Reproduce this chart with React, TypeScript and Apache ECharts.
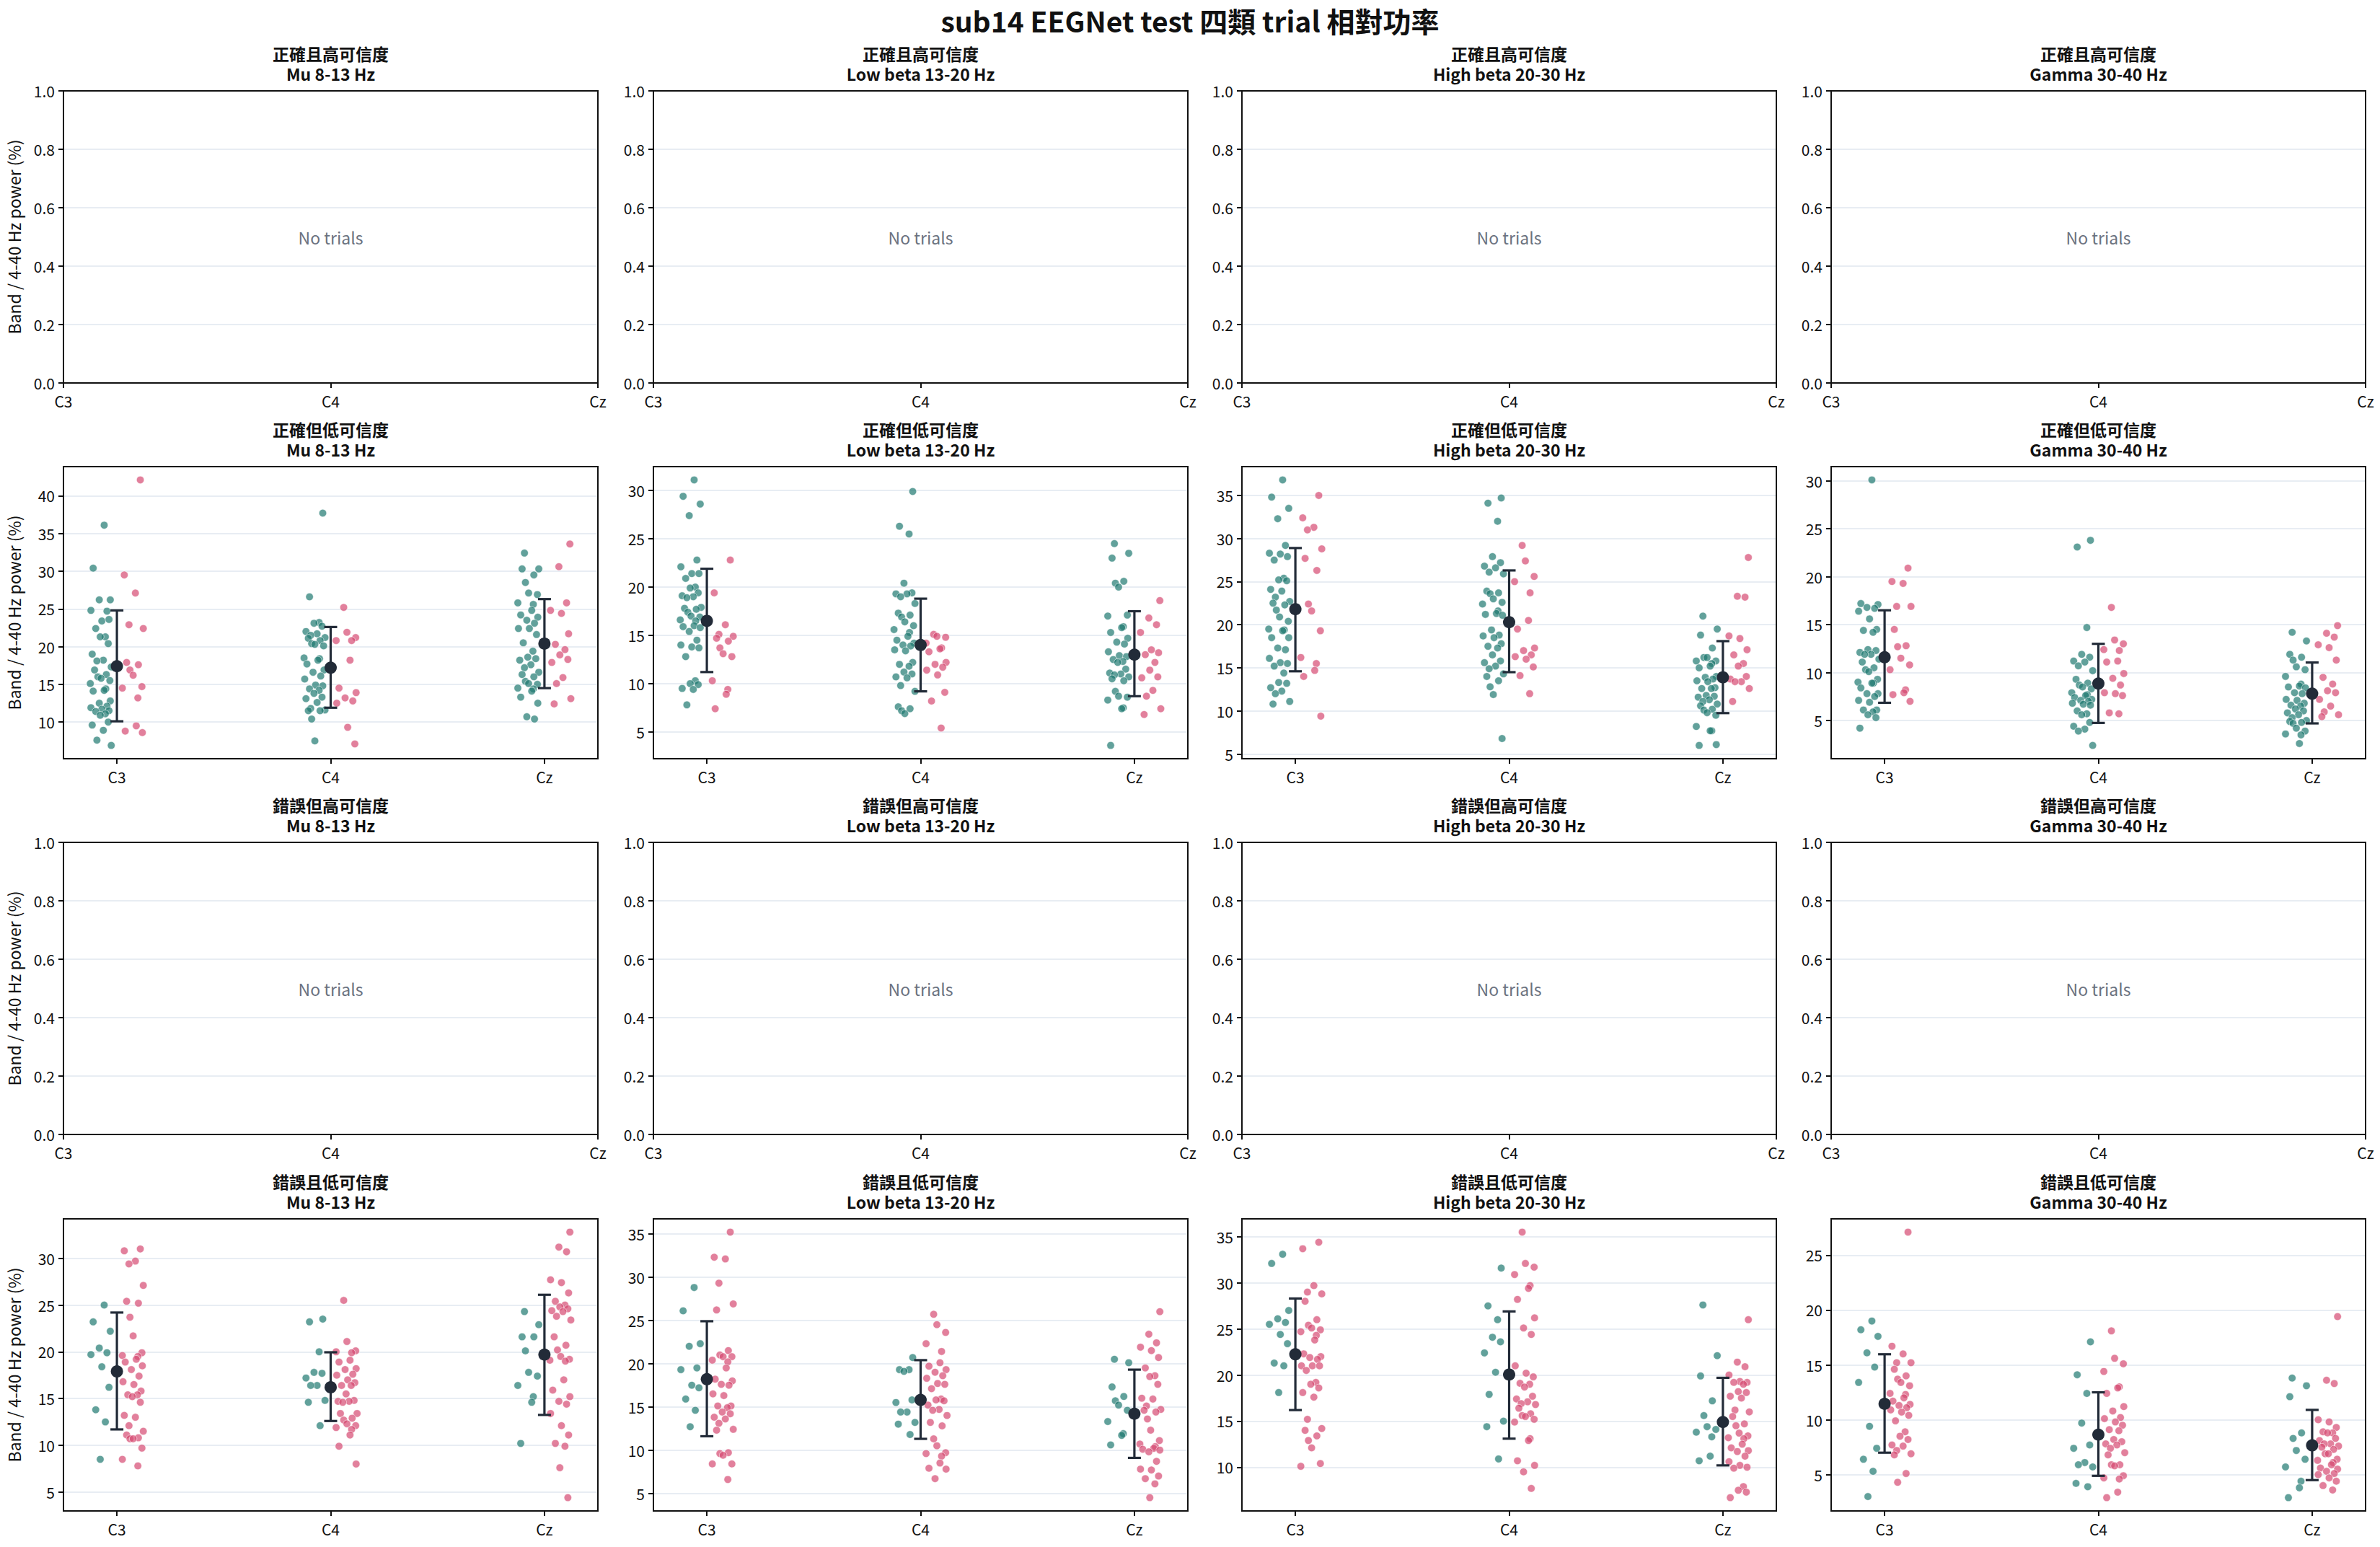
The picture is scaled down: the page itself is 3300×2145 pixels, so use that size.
import React, { useEffect, useRef } from "react";
import * as echarts from "echarts";

// ---------------- text ----------------
const MAIN_TITLE = "sub14 EEGNet test 四類 trial 相對功率";
const ROW_LABELS = ["正確且高可信度", "正確但低可信度", "錯誤但高可信度", "錯誤且低可信度"];
const BANDS = ["Mu 8-13 Hz", "Low beta 13-20 Hz", "High beta 20-30 Hz", "Gamma 30-40 Hz"];
const CHANNELS = ["C3", "C4", "Cz"];
const Y_LABEL = "Band / 4-40 Hz power (%)";
const EMPTY_TEXT = "No trials";

// ---------------- data: 正確但低可信度 (row 2) ----------------
// each array: [C3 values, C4 values, Cz values]
const CL_MU_TEAL = [
  [36.1, 30.4, 26.2, 26.2, 24.7, 24.8, 23.4, 23.6, 22.4, 21.3, 21.3, 20.4, 19.0, 18.2, 18.1, 17.3, 16.9, 16.3, 16.0, 15.8, 15.5, 15.1, 14.4, 14.2, 14.1, 12.8, 12.5, 12.1, 11.9, 11.7, 11.5, 11.4, 11.1, 10.9, 10.0, 9.6, 8.9, 7.6, 6.9],
  [37.7, 26.6, 23.2, 23.1, 22.7, 22.0, 21.7, 21.5, 21.2, 21.1, 20.8, 20.4, 20.3, 20.1, 18.5, 18.4, 18.2, 17.7, 16.9, 16.6, 16.1, 15.7, 14.9, 14.8, 14.4, 14.2, 13.8, 13.3, 13.1, 12.6, 11.8, 11.6, 11.5, 11.5, 10.4, 7.5],
  [32.4, 30.3, 30.3, 29.5, 28.5, 27.1, 26.9, 25.8, 25.6, 24.8, 24.2, 23.9, 23.5, 23.1, 22.4, 22.4, 21.6, 20.5, 19.4, 18.6, 18.4, 18.2, 17.6, 17.2, 16.6, 16.3, 16.0, 15.4, 15.1, 15.0, 14.5, 14.4, 14.1, 13.3, 12.5, 10.7, 10.4],
];
const CL_MU_PINK = [
  [42.1, 29.5, 27.1, 22.9, 22.4, 17.9, 17.6, 16.9, 16.2, 14.7, 14.5, 13.2, 9.5, 8.8, 8.6],
  [25.2, 21.9, 21.2, 20.8, 20.8, 18.2, 14.5, 13.9, 13.2, 12.8, 12.5, 9.3, 7.1],
  [33.6, 30.6, 25.8, 24.8, 24.4, 21.7, 20.3, 19.6, 18.9, 18.3, 17.9, 15.9, 15.1, 13.1, 12.4],
];
const CL_MU_MEAN = [17.4, 17.2, 20.4];
const CL_MU_ERR = [[10.1, 24.8], [11.9, 22.6], [14.5, 26.3]];

const CL_LB_TEAL = [
  [31.1, 29.4, 28.6, 27.4, 22.8, 22.1, 21.4, 21.4, 20.9, 20.0, 19.9, 19.4, 19.1, 19.0, 18.9, 17.9, 17.8, 17.7, 17.4, 17.0, 16.9, 16.6, 16.5, 16.0, 15.9, 15.8, 15.4, 14.5, 14.0, 13.8, 13.7, 12.8, 10.3, 10.0, 9.9, 9.5, 9.4, 7.8],
  [29.9, 26.3, 25.5, 20.4, 19.4, 19.3, 19.3, 19.0, 18.3, 17.3, 17.1, 16.9, 16.4, 16.0, 15.6, 15.3, 14.9, 14.5, 14.2, 14.0, 13.9, 13.5, 13.4, 12.2, 12.0, 11.8, 11.2, 11.0, 10.7, 10.6, 9.8, 9.2, 7.6, 7.4, 7.2, 6.9],
  [24.5, 23.5, 23.0, 20.6, 20.4, 20.0, 17.1, 17.0, 15.9, 15.8, 15.3, 14.7, 14.3, 14.1, 13.3, 12.9, 12.8, 12.5, 12.3, 12.2, 11.5, 11.1, 11.0, 10.9, 10.7, 10.5, 10.3, 9.2, 8.7, 8.6, 8.3, 7.5, 7.4, 3.6],
];
const CL_LB_PINK = [
  [22.8, 19.4, 16.1, 15.1, 14.9, 14.7, 14.4, 13.7, 13.1, 12.8, 10.3, 9.4, 8.9, 7.4],
  [15.1, 14.9, 14.8, 14.2, 13.7, 13.6, 13.3, 12.2, 12.0, 11.7, 11.4, 10.9, 9.1, 8.2, 5.4],
  [18.6, 16.8, 16.1, 15.3, 13.5, 13.2, 13.0, 12.2, 11.4, 10.7, 10.6, 9.3, 8.7, 7.4, 6.8],
];
const CL_LB_MEAN = [16.5, 14.0, 13.0];
const CL_LB_ERR = [[11.2, 21.9], [9.2, 18.8], [8.7, 17.5]];

const CL_HB_TEAL = [
  [36.8, 34.8, 33.5, 32.3, 29.2, 28.3, 28.2, 27.9, 27.5, 25.4, 25.2, 25.1, 24.1, 23.9, 23.2, 22.7, 22.5, 22.3, 21.7, 20.9, 20.4, 19.5, 19.4, 19.3, 18.5, 18.5, 17.3, 17.1, 16.1, 15.6, 15.5, 15.2, 14.4, 13.3, 13.2, 12.7, 12.3, 12.0, 11.1, 10.8],
  [34.7, 34.1, 32.0, 27.9, 27.2, 26.8, 26.6, 26.1, 25.9, 23.9, 23.7, 23.6, 23.0, 22.6, 22.4, 21.6, 21.3, 21.2, 21.1, 19.4, 18.8, 18.7, 18.5, 17.8, 17.5, 17.3, 16.5, 15.8, 15.6, 15.2, 14.9, 14.3, 14.0, 13.5, 12.8, 11.9, 6.8],
  [21.0, 19.5, 18.8, 17.3, 16.2, 16.2, 15.8, 15.8, 15.5, 15.2, 15.0, 14.0, 13.9, 13.7, 13.5, 13.4, 12.7, 12.6, 12.6, 11.8, 11.7, 11.6, 11.3, 11.1, 10.8, 10.6, 10.2, 10.1, 9.8, 9.5, 8.2, 7.7, 7.7, 6.0, 6.1],
];
const CL_HB_PINK = [
  [35.0, 32.4, 31.3, 31.0, 28.8, 27.7, 26.3, 22.4, 21.6, 19.3, 16.2, 15.5, 14.7, 14.0, 9.4],
  [29.2, 27.4, 25.6, 25.0, 23.7, 20.5, 19.5, 17.3, 17.0, 16.5, 16.3, 16.0, 15.1, 14.1, 12.0],
  [27.8, 23.3, 23.2, 18.7, 18.4, 17.1, 16.5, 15.5, 15.2, 14.0, 13.7, 13.4, 13.4, 12.6, 11.1],
];
const CL_HB_MEAN = [21.8, 20.3, 13.9];
const CL_HB_ERR = [[14.6, 28.9], [14.5, 26.3], [9.75, 18.1]];

const CL_GA_TEAL = [
  [30.1, 17.2, 17.1, 16.8, 16.7, 16.4, 15.6, 14.5, 14.4, 14.2, 12.4, 12.3, 12.1, 11.9, 11.9, 11.4, 11.1, 10.5, 10.3, 10.1, 9.3, 9.0, 8.9, 8.9, 8.4, 7.8, 7.8, 7.5, 7.1, 6.9, 6.1, 6.1, 5.9, 5.6, 5.3, 4.2],
  [23.8, 23.1, 14.7, 11.9, 11.6, 11.2, 11.1, 10.7, 10.2, 9.3, 8.9, 8.7, 8.5, 8.3, 7.9, 7.7, 7.6, 7.4, 7.2, 7.1, 7.0, 6.8, 6.7, 6.6, 6.0, 5.7, 5.6, 4.8, 4.4, 4.1, 3.9, 2.4],
  [14.2, 13.3, 11.9, 11.6, 11.3, 10.6, 10.3, 9.6, 8.8, 8.6, 8.5, 8.4, 7.9, 7.8, 7.2, 7.1, 6.8, 6.6, 6.5, 6.2, 6.0, 5.8, 5.6, 5.3, 5.0, 4.9, 4.8, 4.7, 4.2, 3.9, 3.6, 3.5, 2.6],
];
const CL_GA_PINK = [
  [20.9, 19.5, 19.3, 16.9, 16.9, 14.5, 12.8, 12.7, 11.5, 10.8, 10.3, 8.2, 7.9, 7.7, 7.0],
  [16.8, 13.4, 13.0, 12.4, 12.3, 11.2, 11.1, 9.9, 9.4, 8.7, 7.9, 7.8, 7.6, 5.8, 5.7],
  [14.9, 14.1, 13.7, 12.9, 12.6, 11.3, 9.5, 8.8, 8.1, 7.9, 7.2, 6.5, 5.9, 5.6, 5.4],
];
const CL_GA_MEAN = [11.6, 8.85, 7.8];
const CL_GA_ERR = [[6.85, 16.5], [4.75, 13.0], [4.7, 11.05]];

// ---------------- data: 錯誤且低可信度 (row 4) ----------------
const WL_MU_TEAL = [
  [25.0, 23.2, 22.2, 20.4, 19.9, 19.7, 18.4, 16.2, 13.8, 12.5, 8.5],
  [23.5, 23.2, 20.0, 17.8, 17.7, 17.2, 16.4, 16.4, 14.8, 14.6, 12.1],
  [24.3, 22.9, 21.6, 21.6, 20.1, 17.8, 17.4, 16.4, 15.2, 14.6, 10.2],
];
const WL_MU_PINK = [
  [31.0, 30.8, 29.7, 29.4, 27.1, 25.4, 25.2, 23.7, 21.7, 19.9, 19.6, 19.5, 19.2, 18.9, 18.5, 18.1, 17.4, 16.8, 16.5, 15.8, 15.4, 15.4, 15.2, 14.6, 13.2, 13.0, 12.1, 11.5, 11.1, 10.8, 10.7, 10.7, 9.7, 8.5, 7.8],
  [25.5, 21.1, 20.1, 20.0, 19.9, 19.1, 18.9, 18.2, 18.1, 17.6, 17.5, 17.0, 16.7, 16.4, 16.4, 15.5, 14.8, 14.7, 14.7, 14.6, 13.4, 13.4, 12.9, 12.7, 12.3, 12.1, 11.9, 11.7, 11.1, 9.9, 8.0],
  [32.8, 31.2, 30.7, 27.7, 27.4, 26.3, 25.4, 25.0, 24.8, 24.6, 24.4, 24.3, 23.8, 23.4, 21.6, 20.7, 20.2, 19.5, 19.2, 19.1, 19.0, 17.0, 15.9, 15.2, 14.7, 14.4, 13.4, 12.1, 11.1, 10.2, 9.9, 7.6, 4.4],
];
const WL_MU_MEAN = [17.9, 16.2, 19.7];
const WL_MU_ERR = [[11.7, 24.2], [12.6, 19.95], [13.25, 26.1]];

const WL_LB_TEAL = [
  [28.8, 26.1, 22.3, 22.0, 19.5, 19.3, 17.5, 17.2, 15.9, 14.6, 12.7],
  [20.7, 19.3, 19.3, 19.1, 15.8, 15.5, 14.4, 14.4, 13.2, 13.0, 11.8],
  [20.5, 20.1, 17.3, 16.2, 15.7, 15.2, 14.6, 13.3, 11.9, 11.7, 10.6],
];
const WL_LB_PINK = [
  [35.2, 32.3, 32.1, 29.3, 26.9, 26.2, 21.5, 21.0, 20.8, 20.8, 20.4, 20.2, 19.5, 18.2, 18.0, 17.6, 17.5, 16.5, 16.3, 15.1, 15.1, 14.9, 14.4, 14.2, 13.8, 13.6, 13.1, 12.4, 12.3, 9.7, 9.6, 9.4, 8.4, 8.4, 6.6],
  [25.7, 24.5, 23.6, 22.3, 21.4, 20.1, 19.7, 19.3, 19.0, 18.6, 18.3, 17.7, 17.6, 17.1, 15.9, 15.8, 15.7, 15.2, 14.7, 14.6, 14.0, 13.2, 12.8, 11.3, 10.5, 9.7, 9.6, 9.3, 8.5, 7.9, 7.8, 6.7],
  [26.0, 23.4, 22.4, 21.9, 21.5, 20.7, 19.5, 18.6, 18.5, 17.6, 16.0, 15.9, 15.1, 14.7, 14.6, 14.4, 13.6, 12.3, 11.1, 10.7, 10.4, 10.2, 10.1, 10.0, 9.8, 8.7, 7.8, 7.7, 7.0, 6.7, 6.1, 4.5],
];
const WL_LB_MEAN = [18.2, 15.8, 14.2];
const WL_LB_ERR = [[11.6, 24.9], [11.3, 20.4], [9.1, 19.3]];

const WL_HB_TEAL = [
  [33.1, 32.1, 27.0, 26.1, 25.7, 25.5, 24.4, 23.4, 21.3, 21.0, 18.1],
  [31.6, 27.5, 26.0, 24.1, 23.6, 22.4, 20.3, 17.9, 15.0, 14.4, 10.9],
  [27.6, 22.1, 19.9, 17.2, 15.6, 14.4, 14.1, 13.8, 13.3, 11.2, 10.7],
];
const WL_HB_PINK = [
  [34.4, 33.7, 29.7, 29.0, 28.8, 28.0, 26.0, 25.4, 25.1, 24.9, 24.7, 24.3, 23.8, 22.3, 22.0, 21.9, 21.7, 21.0, 21.0, 21.0, 20.5, 19.2, 19.0, 18.6, 18.1, 17.6, 15.2, 14.2, 14.0, 13.4, 12.9, 12.1, 10.4, 10.1],
  [35.5, 32.1, 31.7, 30.9, 29.7, 29.4, 28.2, 26.2, 25.1, 24.4, 21.0, 20.2, 19.8, 19.1, 19.0, 18.7, 17.7, 17.4, 17.1, 16.9, 16.8, 16.4, 15.8, 15.6, 15.5, 15.2, 14.9, 13.1, 12.9, 10.7, 10.2, 9.5, 7.7],
  [26.0, 21.4, 20.9, 20.0, 19.3, 19.2, 19.2, 19.0, 18.2, 18.1, 17.7, 17.5, 16.2, 16.0, 15.5, 14.7, 14.5, 13.7, 13.4, 13.2, 13.1, 12.5, 12.1, 11.8, 11.7, 11.2, 10.6, 10.2, 10.0, 9.9, 7.9, 7.5, 7.3, 6.7],
];
const WL_HB_MEAN = [22.25, 20.05, 14.9];
const WL_HB_ERR = [[16.2, 28.3], [13.1, 26.9], [10.2, 19.7]];

const WL_GA_TEAL = [
  [19.0, 18.2, 17.6, 16.1, 14.8, 13.4, 9.4, 7.4, 6.4, 5.3, 3.0],
  [17.1, 14.1, 12.4, 9.7, 7.7, 7.4, 6.1, 5.9, 5.7, 4.2, 3.9],
  [13.8, 13.1, 12.1, 8.8, 8.3, 7.2, 6.4, 5.7, 4.4, 3.8, 2.9],
];
const WL_GA_PINK = [
  [27.1, 16.7, 16.0, 15.2, 15.2, 14.6, 14.0, 13.7, 13.4, 13.1, 12.4, 12.3, 12.0, 11.7, 11.4, 11.3, 11.1, 10.9, 10.7, 10.4, 9.9, 8.9, 8.5, 8.2, 7.7, 7.6, 7.2, 6.9, 6.8, 5.1, 4.3],
  [18.1, 15.6, 15.1, 14.4, 13.0, 12.9, 12.4, 11.2, 10.8, 10.2, 10.1, 9.8, 9.5, 9.1, 9.0, 8.2, 8.0, 7.8, 7.7, 7.4, 7.0, 6.8, 5.9, 5.9, 5.8, 4.9, 4.7, 4.6, 3.4, 2.9],
  [19.4, 13.6, 13.3, 10.0, 9.8, 9.3, 8.9, 8.8, 8.8, 8.3, 8.1, 7.8, 7.8, 7.6, 7.5, 7.3, 6.9, 6.9, 6.4, 6.3, 6.1, 5.9, 5.6, 5.5, 5.3, 5.1, 5.0, 4.7, 4.4, 4.0, 3.6],
];
const WL_GA_MEAN = [11.45, 8.64, 7.67];
const WL_GA_ERR = [[7.0, 15.97], [4.89, 12.5], [4.5, 10.9]];

// horizontal jitter pattern (fraction of half-width), cycled
const JITTER = [0.31, -0.72, 0.88, -0.15, 0.57, -0.93, 0.09, 0.76, -0.48, 0.42, -0.06, 0.69, -0.81, 0.23, -0.37, 0.97, -0.59, 0.51, -0.28, 0.02, 0.84, -0.99, 0.46];

// ---------------- style / layout ----------------
const FONT = '"Noto Sans CJK TC", "Noto Sans CJK SC", "Noto Sans", sans-serif';
const TEAL = "#1f7970";
const PINK = "#d54a72";
const DARK = "#222b38";
const GRID_LINE = "#e1e7ef";
const AXIS_COLOR = "#111111";
const GRID_LEFT = [88, 906, 1722, 2539];
const GRID_TOP = [126, 647, 1168, 1690];
const GRID_W = 741;
const GRID_H = 405;

type Panel = { teal: number[][]; pink: number[][]; mean: number[]; err: number[][] };
const ROW_DATA: (Panel[] | null)[] = [
  null,
  [
    { teal: CL_MU_TEAL, pink: CL_MU_PINK, mean: CL_MU_MEAN, err: CL_MU_ERR },
    { teal: CL_LB_TEAL, pink: CL_LB_PINK, mean: CL_LB_MEAN, err: CL_LB_ERR },
    { teal: CL_HB_TEAL, pink: CL_HB_PINK, mean: CL_HB_MEAN, err: CL_HB_ERR },
    { teal: CL_GA_TEAL, pink: CL_GA_PINK, mean: CL_GA_MEAN, err: CL_GA_ERR },
  ],
  null,
  [
    { teal: WL_MU_TEAL, pink: WL_MU_PINK, mean: WL_MU_MEAN, err: WL_MU_ERR },
    { teal: WL_LB_TEAL, pink: WL_LB_PINK, mean: WL_LB_MEAN, err: WL_LB_ERR },
    { teal: WL_HB_TEAL, pink: WL_HB_PINK, mean: WL_HB_MEAN, err: WL_HB_ERR },
    { teal: WL_GA_TEAL, pink: WL_GA_PINK, mean: WL_GA_MEAN, err: WL_GA_ERR },
  ],
];

function jittered(vals: number[], ci: number, side: number) {
  return vals.map((v, i) => {
    const j = JITTER[(i + ci * 7 + (side > 0 ? 11 : 0)) % JITTER.length];
    return [ci + side * 0.075 + 0.05 * j, v];
  });
}

const tickLabel = { color: AXIS_COLOR, fontSize: 21, fontFamily: FONT };
const tickLine = { color: AXIS_COLOR, width: 2 };

function buildOption() {
  const grid: any[] = [];
  const xAxis: any[] = [];
  const yAxis: any[] = [];
  const series: any[] = [];
  const graphic: any[] = [];

  const text = (x: number, y: number, t: string, size: number, weight: string, color: string, rotation = 0) => ({
    type: "text",
    x,
    y,
    rotation,
    z: 100,
    silent: true,
    style: {
      text: t,
      fill: color,
      fontSize: size,
      lineHeight: size,
      fontWeight: weight,
      fontFamily: FONT,
      align: "center",
      verticalAlign: "middle",
      textAlign: "center",
      textVerticalAlign: "middle",
    },
  });

  graphic.push(text(1650, 28, MAIN_TITLE, 39, "bold", "#111111"));

  for (let r = 0; r < 4; r++) {
    for (let c = 0; c < 4; c++) {
      const idx = r * 4 + c;
      const left = GRID_LEFT[c];
      const top = GRID_TOP[r];
      grid.push({ left, top, width: GRID_W, height: GRID_H, show: false });
      const cx = left + GRID_W / 2;
      graphic.push(text(cx, top - 52, ROW_LABELS[r], 23, "bold", "#111111"));
      graphic.push(text(cx, top - 24, BANDS[c], 23, "bold", "#111111"));
      graphic.push({
        type: "rect",
        z: 100,
        silent: true,
        shape: { x: left, y: top, width: GRID_W, height: GRID_H },
        style: { fill: "none", stroke: AXIS_COLOR, lineWidth: 2 },
      });

      const rowData = ROW_DATA[r];
      if (!rowData) {
        xAxis.push({
          type: "value",
          gridIndex: idx,
          min: 0,
          max: 2,
          interval: 1,
          axisLine: { show: false, onZero: false },
          axisTick: { show: true, length: 7, lineStyle: tickLine },
          axisLabel: { ...tickLabel, margin: 14, formatter: (v: number) => CHANNELS[Math.round(v)] ?? "" },
          splitLine: { show: false },
        });
        yAxis.push({
          type: "value",
          gridIndex: idx,
          min: 0,
          max: 1,
          interval: 0.2,
          axisLine: { show: false, onZero: false },
          axisTick: { show: true, length: 7, lineStyle: tickLine },
          axisLabel: { ...tickLabel, margin: 12, formatter: (v: number) => v.toFixed(1) },
          splitLine: { show: true, lineStyle: { color: GRID_LINE, width: 1.5 } },
        });
        graphic.push(text(cx, top + GRID_H / 2, EMPTY_TEXT, 23, "normal", "#6b7280"));
        series.push({ type: "scatter", xAxisIndex: idx, yAxisIndex: idx, data: [] });
      } else {
        const p = rowData[c];
        const all = [...p.teal.flat(), ...p.pink.flat(), ...p.err.flat()];
        const mn = Math.min(...all);
        const mx = Math.max(...all);
        const pad = (mx - mn) * 0.05;
        const lo = mn - pad;
        const hi = mx + pad;
        const yTicks: number[] = [];
        for (let t = Math.ceil(lo / 5) * 5; t <= hi; t += 5) yTicks.push(t);

        xAxis.push({
          type: "value",
          gridIndex: idx,
          min: -0.25,
          max: 2.25,
          axisLine: { show: false, onZero: false },
          axisTick: { show: true, length: 7, lineStyle: tickLine, customValues: [0, 1, 2] },
          axisLabel: {
            ...tickLabel,
            margin: 14,
            customValues: [0, 1, 2],
            formatter: (v: number) => (Math.abs(v - Math.round(v)) < 1e-6 ? CHANNELS[Math.round(v)] ?? "" : ""),
          },
          splitLine: { show: false },
        });
        yAxis.push({
          type: "value",
          gridIndex: idx,
          min: lo,
          max: hi,
          minInterval: 5,
          maxInterval: 5,
          axisLine: { show: false, onZero: false },
          axisTick: { show: true, length: 7, lineStyle: tickLine, customValues: yTicks },
          axisLabel: { ...tickLabel, margin: 12, customValues: yTicks, formatter: (v: number) => String(Math.round(v)) },
          splitLine: { show: true, lineStyle: { color: GRID_LINE, width: 1.5 } },
        });

        const tealData: number[][] = [];
        const pinkData: number[][] = [];
        for (let ci = 0; ci < 3; ci++) {
          tealData.push(...jittered(p.teal[ci], ci, -1));
          pinkData.push(...jittered(p.pink[ci], ci, 1));
        }
        const pointStyle = (color: string) => ({
          color,
          opacity: 0.7,
          borderColor: "#ffffff",
          borderWidth: 0.8,
        });
        series.push({
          type: "scatter",
          xAxisIndex: idx,
          yAxisIndex: idx,
          data: tealData,
          symbolSize: 10.5,
          itemStyle: pointStyle(TEAL),
          z: 2,
          silent: true,
        });
        series.push({
          type: "scatter",
          xAxisIndex: idx,
          yAxisIndex: idx,
          data: pinkData,
          symbolSize: 10.5,
          itemStyle: pointStyle(PINK),
          z: 2,
          silent: true,
        });
        series.push({
          type: "custom",
          xAxisIndex: idx,
          yAxisIndex: idx,
          z: 3,
          silent: true,
          encode: { x: 0, y: [1, 2] },
          data: p.err.map((e, ci) => [ci, e[0], e[1]]),
          renderItem: (_params: any, api: any) => {
            const x = api.value(0);
            const a = api.coord([x, api.value(1)]);
            const b = api.coord([x, api.value(2)]);
            const cap = 9;
            const st = { stroke: DARK, lineWidth: 3.2 };
            return {
              type: "group",
              children: [
                { type: "line", shape: { x1: a[0], y1: a[1], x2: b[0], y2: b[1] }, style: st },
                { type: "line", shape: { x1: a[0] - cap, y1: a[1], x2: a[0] + cap, y2: a[1] }, style: st },
                { type: "line", shape: { x1: b[0] - cap, y1: b[1], x2: b[0] + cap, y2: b[1] }, style: st },
              ],
            };
          },
        });
        series.push({
          type: "scatter",
          xAxisIndex: idx,
          yAxisIndex: idx,
          data: p.mean.map((m, ci) => [ci, m]),
          symbolSize: 17,
          itemStyle: { color: DARK, opacity: 1 },
          z: 4,
          silent: true,
        });
      }
    }
    graphic.push(text(19, GRID_TOP[r] + GRID_H / 2, Y_LABEL, 23, "normal", "#111111", Math.PI / 2));
  }

  return {
    animation: false,
    backgroundColor: "#ffffff",
    textStyle: { fontFamily: FONT },
    grid,
    xAxis,
    yAxis,
    series,
    graphic: { elements: graphic },
  };
}

export default function App() {
  const ref = useRef<HTMLDivElement>(null);
  useEffect(() => {
    if (!ref.current) return;
    const chart = echarts.init(ref.current, null, { renderer: "svg" });
    chart.setOption(buildOption() as any);
    return () => chart.dispose();
  }, []);
  return (
    <div
      ref={ref}
      style={{ position: "absolute", left: 0, top: 0, width: 3300, height: 2145, background: "#ffffff" }}
    />
  );
}
